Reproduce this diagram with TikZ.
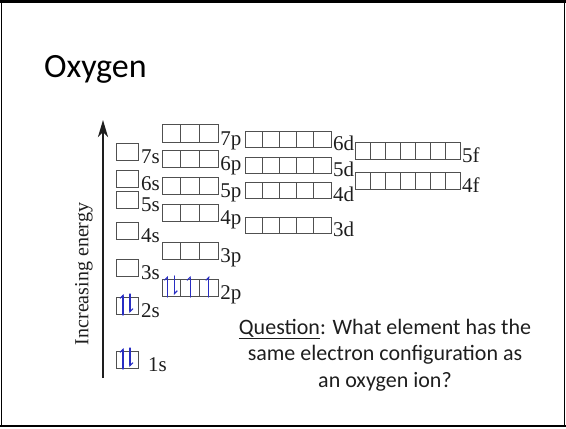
\documentclass[tikz,border=0pt]{standalone}
\usepackage{fontspec}
\setmainfont{Liberation Serif}
\newfontfamily\slidefont{Carlito}
\definecolor{penblue}{RGB}{40, 45, 195}
\definecolor{boxgray}{RGB}{80, 80, 80}
\definecolor{inkdark}{RGB}{30, 30, 30}
\usetikzlibrary{arrows.meta, positioning}

\begin{document}
\begin{tikzpicture}[x=1pt, y=-1pt,
    orbbox/.style={draw=boxgray, line width=0.75pt, inner sep=0pt, outer sep=0pt, anchor=north west},
    orblabel/.style={anchor=base west, inner sep=0pt, text=inkdark, font=\fontsize{21}{24}\selectfont},
    elec/.style={draw=penblue, line width=1.1pt, line cap=round, -{Straight Barb[left, length=3pt, width=6pt]}}]
  \useasboundingbox (0,0) rectangle (566,429);
  \draw[line width=0.8pt] (1.5,1.5) rectangle (564.5,426);
  \draw[line width=2.5pt] (0,1.5) -- (566,1.5);
  \draw[line width=2pt] (0,426) -- (566,426);

  \node[anchor=base west, inner sep=0pt, font=\slidefont\fontsize{34}{40}\selectfont] (title) at (44,77) {Oxygen};

  \coordinate (axis-bot) at (103,378);
  \coordinate (axis-top) at (103,120);
  \draw[inkdark, line width=2.6pt, -{Stealth[length=17pt, width=10pt, inset=5pt]}] (axis-bot) -- (axis-top);
  \node[rotate=90, inner sep=0pt, text=inkdark, font=\fontsize{20}{24}\selectfont] (energy) at (84,274) {Increasing energy};

  \foreach \orb/\x/\y/\n/\w/\h/\lx in {
      1s/116/351/1/22/17/10, 2s/116/297/1/22/17/3, 3s/116/259/1/22/17/3, 4s/116/222/1/22/17/3,
      5s/116/191/1/22/17/3, 6s/116/170/1/22/17/3, 7s/116/143/1/22/17/3,
      2p/162/279/3/18.7/17/2, 3p/162/242/3/18.7/17/2, 4p/162/204/3/18.7/17/2,
      5p/162/177/3/18.7/17/2, 6p/162/150/3/18.7/17/2, 7p/162/124/3/18.7/18/2,
      3d/245/217/5/17.2/16.5/2, 4d/245/182/5/17.2/16.5/2, 5d/245/157/5/17.2/16.5/2, 6d/245/131/5/17.2/16.5/2,
      4f/355/172/7/15/17.5/2, 5f/355/142/7/15/17.5/2} {
    \foreach \i in {1,...,\n} {
      \node[orbbox, minimum width=\w pt, minimum height=\h pt] (\orb-\i) at ({\x+(\i-1)*\w}, \y) {};
    }
    \node[orblabel] (lbl-\orb) at ([xshift=\lx pt, yshift=-3pt]\orb-\n.south east) {\orb};
  }

  \foreach \b in {1s-1, 2s-1, 2p-1} {
    \draw[elec] ([xshift=-4pt]\b.south) ++(0,1) -- ++(0,-21);
    \draw[elec] ([xshift=3pt]\b.north) ++(0,-3) -- ++(0,19);
  }
  \foreach \b in {2p-2, 2p-3} {
    \draw[elec] (\b.south) ++(0,1) -- ++(0,-21);
  }

  \node[align=center, inner sep=0pt, text=inkdark, font=\slidefont\fontsize{22}{26.5}\selectfont] (question) at (385,355)
    {\underline{Question}: What element has the\\ same electron configuration as\\ an oxygen ion?};
\end{tikzpicture}
\end{document}
